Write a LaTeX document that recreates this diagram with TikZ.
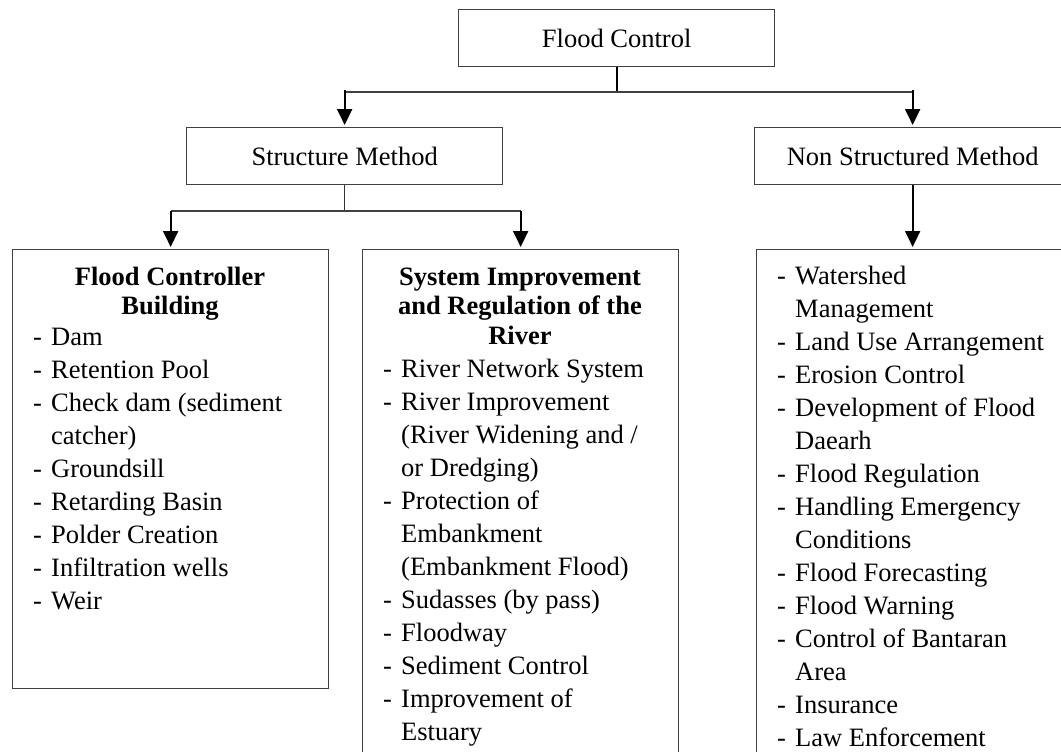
\documentclass[tikz,border=0pt]{standalone}
\usepackage{fontspec}
\setmainfont{Liberation Serif}
\usetikzlibrary{arrows.meta}
\newcommand\hy[1]{\makebox[18pt][l]{-}#1}
\newcommand\ct[1]{\hspace*{18pt}#1}
\begin{document}
\begin{tikzpicture}[x=1pt,y=-1pt,
  box/.style={draw=black!75,line width=1.3pt,anchor=north west,inner sep=0pt,
    minimum width=316pt},
  hbox/.style={box,minimum height=57pt,font=\fontsize{26.5pt}{33pt}\selectfont},
  lst/.style={anchor=base west,inner sep=0pt,font=\fontsize{26.5pt}{33pt}\selectfont},
  hd/.style={anchor=base,inner sep=0pt,font=\fontsize{26.5pt}{29.5pt}\selectfont\bfseries},
  vline/.style={draw=black,line width=2pt},
  hline/.style={draw=black!75,line width=1.5pt},
  arr/.style={vline,-{Triangle[length=16pt,width=15pt]},shorten >=2pt}]
\useasboundingbox (0,0) rectangle (1061,752);
\clip (0,0) rectangle (1061,752);
% boxes
\node[hbox] (fc) at (458,9) {Flood Control};
\node[hbox] (sm) at (186,127) {Structure Method};
\node[hbox] (nsm) at (754,127) {Non Structured Method};
\node[box,minimum height=439pt] (b1) at (12,249) {};
\node[box,minimum height=540pt] (b2) at (362,249) {};
\node[box,minimum height=540pt] (b3) at (756,249) {};
% headings
\node[hd] (h1) at (170,285) {\parbox[t]{300pt}{\centering Flood Controller\\ Building}};
\node[hd] (h2) at (520,285) {\parbox[t]{300pt}{\centering System Improvement\\ and Regulation of the\\ River}};
% lists
\node[lst] (l1) at (33,345) {\parbox[t]{295pt}{\hy{Dam}\\ \hy{Retention Pool}\\ \hy{Check dam (sediment}\\ \ct{catcher)}\\ \hy{Groundsill}\\ \hy{Retarding Basin}\\ \hy{Polder Creation}\\ \hy{Infiltration wells}\\ \hy{Weir}}};
\node[lst] (l2) at (383,377) {\parbox[t]{295pt}{\hy{River Network System}\\ \hy{River Improvement}\\ \ct{(River Widening and /}\\ \ct{or Dredging)}\\ \hy{Protection of}\\ \ct{Embankment}\\ \ct{(Embankment Flood)}\\ \hy{Sudasses (by pass)}\\ \hy{Floodway}\\ \hy{Sediment Control}\\ \hy{Improvement of}\\ \ct{Estuary}}};
\node[lst] (l3) at (777,284) {\parbox[t]{295pt}{\hy{Watershed}\\ \ct{Management}\\ \hy{Land Use Arrangement}\\ \hy{Erosion Control}\\ \hy{Development of Flood}\\ \ct{Daearh}\\ \hy{Flood Regulation}\\ \hy{Handling Emergency}\\ \ct{Conditions}\\ \hy{Flood Forecasting}\\ \hy{Flood Warning}\\ \hy{Control of Bantaran}\\ \ct{Area}\\ \hy{Insurance}\\ \hy{Law Enforcement}}};
% connector junctions
\coordinate (j0) at (fc.south |- 0,93);
\coordinate (jl) at (sm.north |- 0,92);
\coordinate (jr) at (nsm.north |- 0,92);
\coordinate (ja) at (sm.north |- 0,90);
\coordinate (jb) at (nsm.north |- 0,90);
\coordinate (k0) at (sm.south |- 0,211);
\coordinate (kl) at (b1.north |- 0,211);
\coordinate (kr) at (b2.north |- 0,211);
\coordinate (m3) at (nsm.south |- b3.north);
% connectors
\draw[vline] (fc.south) -- (j0);
\draw[hline] (jl) -- (jr);
\draw[arr] (ja) -- (sm.north);
\draw[arr] (jb) -- (nsm.north);
\draw[vline,line width=1.5pt,draw=black!80] (sm.south) -- (k0);
\draw[hline] (kl) -- (kr);
\draw[arr] (kl) -- (b1.north);
\draw[arr] (kr) -- (b2.north);
\draw[arr] (nsm.south) -- (m3);
\end{tikzpicture}
\end{document}
